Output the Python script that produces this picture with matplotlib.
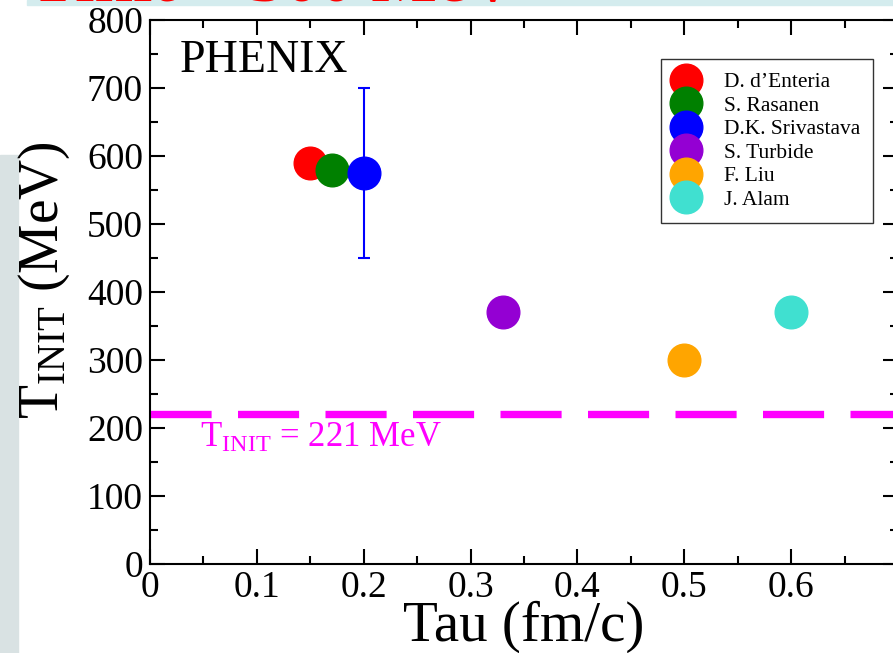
import numpy as np
import matplotlib
matplotlib.use("Agg")
import matplotlib.pyplot as plt
from matplotlib.patches import Rectangle

# ------------------------------------------------------------
# Donnees (Tau en fm/c, T_init en MeV)
# ------------------------------------------------------------
auteurs = ["D. d\u2019Enteria", "S. Rasanen", "D.K. Srivastava",
           "S. Turbide", "F. Liu", "J. Alam"]
tau = [0.15, 0.17, 0.20, 0.33, 0.50, 0.60]
t_init = [590, 580, 575, 370, 300, 370]
couleurs = ["#ff0000", "#008000", "#0000ff", "#9400d3", "#ffa500", "#40e0d0"]

# barre d'erreur (seulement D.K. Srivastava)
err_idx = 2
err_t = 125

t_phenix = 221

plt.rcParams['font.family'] = ['Liberation Serif', 'DejaVu Serif']
plt.rcParams['mathtext.fontset'] = 'custom'
plt.rcParams['mathtext.rm'] = 'Liberation Serif'
plt.rcParams['mathtext.it'] = 'Liberation Serif:italic'
plt.rcParams['lines.scale_dashes'] = False

fig = plt.figure(figsize=(8.93, 6.53), dpi=100)

# fond de la diapositive (bandes autour du graphique)
fig.patches.append(Rectangle((27/893, 1-5/653), 1, 5/653, transform=fig.transFigure,
                             color="#d4ecee", zorder=0))
fig.patches.append(Rectangle((0, 0), 18/893, 1-155/653, transform=fig.transFigure,
                             color="#d9e2e3", zorder=0))
# bas du titre de la diapositive, coupe par le cadre
fig.text(30/893, 1 - 1.5/653, "Tinit > 300 MeV", color="red", fontsize=50,
         fontweight="bold", va="baseline", ha="left")

ax = fig.add_axes([150/893, 1-564/653, 748/893, 544/653])

# ligne PHENIX
ax.axhline(t_phenix, color="#ff00ff", lw=5.3, dashes=(44, 19), zorder=1)
ax.text(0.067, 0.215, "T$_{\\rm INIT}$ = 221 MeV", transform=ax.transAxes,
        color="#ff00ff", fontsize=25, va="baseline")

for i in range(len(tau)):
    if i == err_idx:
        ax.errorbar(tau[i], t_init[i], yerr=err_t, fmt="none", ecolor=couleurs[i],
                    elinewidth=1.5, capsize=4.3, capthick=1.5, zorder=2)
    ax.plot(tau[i], t_init[i], "o", ms=23.5, color=couleurs[i], mec=couleurs[i],
            label=auteurs[i], zorder=3)

ax.set_xlim(0, 0.7)
ax.set_ylim(0, 800)
ax.set_xticks(np.arange(0, 0.61, 0.1))
ax.set_xticklabels(["0", "0.1", "0.2", "0.3", "0.4", "0.5", "0.6"])
ax.set_xticks(np.arange(0.05, 0.7, 0.1), minor=True)
ax.set_yticks(np.arange(0, 801, 100))
ax.set_yticks(np.arange(50, 800, 100), minor=True)

ax.tick_params(which="both", direction="in", top=True, right=True, width=1.5,
               labelsize=27)
ax.tick_params(which="major", length=10.8)
ax.tick_params(which="minor", length=5.8)
ax.tick_params(axis="x", pad=5)
ax.tick_params(axis="y", pad=5)
for s in ax.spines.values():
    s.set_linewidth(1.5)

# titres des axes
fig.text(524/893, 1-641/653, "Tau (fm/c)", fontsize=41, ha="center", va="baseline")
fig.text(44/893, 1-280/653, "T$_{\\rm INIT}$ (MeV)", rotation=90, fontsize=40,
         ha="center", va="center")

ax.text(0.04, 0.905, "PHENIX", transform=ax.transAxes, fontsize=33, va="baseline")

leg = ax.legend(loc="upper right", bbox_to_anchor=(0.9666, 0.928), borderaxespad=0,
                fontsize=15.5, labelspacing=0.16, borderpad=0.6, handlelength=1.1,
                handletextpad=1.2, fancybox=False, framealpha=1)
leg.get_frame().set_edgecolor("#333333")
leg.get_frame().set_linewidth(1.0)

fig.savefig("out.png", dpi=100)
